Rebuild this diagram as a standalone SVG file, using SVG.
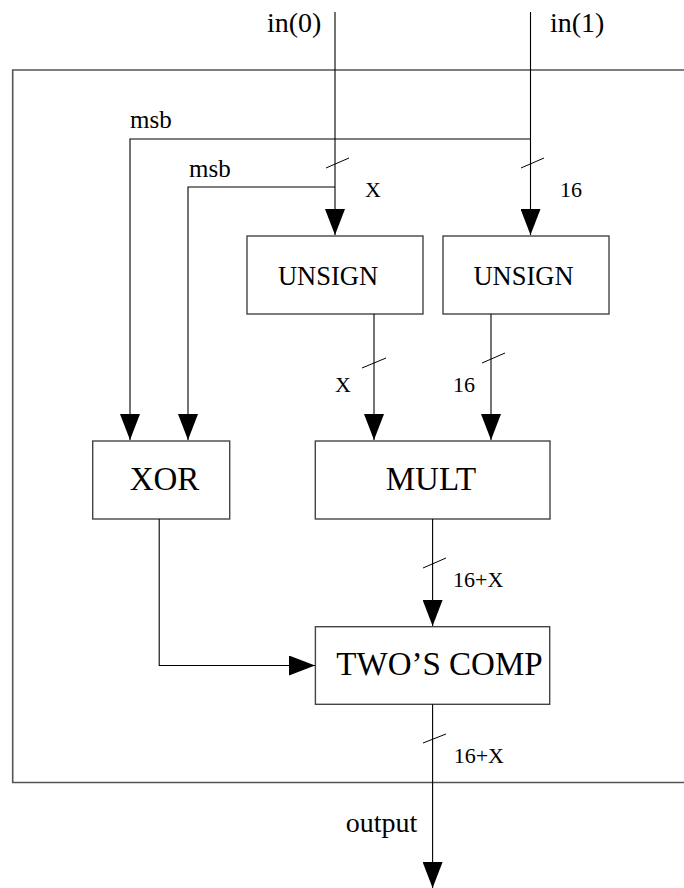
<svg xmlns="http://www.w3.org/2000/svg" width="684" height="888" viewBox="0 0 684 888">
  <style>
    text { font-family: "Liberation Serif", "Times New Roman", serif; fill: #000; }
    .frame { fill: none; stroke: #555; stroke-width: 1.6; }
    .box rect { fill: #fff; stroke: #444; stroke-width: 1.4; }
    .box text { text-anchor: middle; }
    .wire { fill: none; stroke: #000; stroke-width: 1.1; }
    .bus { stroke: #000; stroke-width: 1; }
    .lbl { font-size: 22px; }
    .pin { font-size: 28px; }
    .msb { font-size: 25px; }
  </style>
  <defs>
    <marker id="arrow" viewBox="0 0 26 20" refX="26" refY="10" markerWidth="26" markerHeight="20" orient="auto" markerUnits="userSpaceOnUse">
      <path d="M0,0 L26,10 L0,20 Z" fill="#000"/>
    </marker>
  </defs>

  <!-- enclosing block boundary (open on the right) -->
  <path class="frame" d="M684,70 H12.7 V782.5 H684"/>

  <!-- processing blocks -->
  <g id="unsign0" class="box">
    <rect x="247" y="236" width="176" height="78"/>
    <text x="328" y="285" font-size="26.5">UNSIGN</text>
  </g>
  <g id="unsign1" class="box">
    <rect x="443" y="236" width="166" height="78"/>
    <text x="523.5" y="285" font-size="26.5">UNSIGN</text>
  </g>
  <g id="xor" class="box">
    <rect x="92.7" y="441" width="137" height="78"/>
    <text x="164.5" y="490" font-size="33">XOR</text>
  </g>
  <g id="mult" class="box">
    <rect x="315.3" y="441" width="234.7" height="78"/>
    <text x="431" y="490" font-size="33">MULT</text>
  </g>
  <g id="twoscomp" class="box">
    <rect x="315.4" y="626.7" width="234.3" height="77.6"/>
    <text x="439.5" y="675" font-size="33">TWO’S COMP</text>
  </g>

  <!-- wires -->
  <g id="connectors">
    <path class="wire" d="M335,12 V235" marker-end="url(#arrow)"/>
    <path class="wire" d="M530.5,12 V235" marker-end="url(#arrow)"/>
    <path class="wire" d="M530.5,139 H130 V440" marker-end="url(#arrow)"/>
    <path class="wire" d="M335,187 H188 V440" marker-end="url(#arrow)"/>
    <path class="wire" d="M374,314 V440" marker-end="url(#arrow)"/>
    <path class="wire" d="M491,314 V440" marker-end="url(#arrow)"/>
    <path class="wire" d="M432.6,519 V626" marker-end="url(#arrow)"/>
    <path class="wire" d="M159.2,519 V665.5 H315" marker-end="url(#arrow)"/>
    <path class="wire" d="M432.6,704.3 V888" marker-end="url(#arrow)"/>

    <!-- bus-width slashes -->
    <line class="bus" x1="326" y1="168" x2="349" y2="158"/>
    <line class="bus" x1="521" y1="168" x2="544" y2="158"/>
    <line class="bus" x1="362" y1="368" x2="386" y2="358"/>
    <line class="bus" x1="482" y1="363" x2="505" y2="353"/>
    <line class="bus" x1="423" y1="568" x2="446" y2="558"/>
    <line class="bus" x1="423" y1="743" x2="446" y2="734"/>
  </g>

  <!-- signal labels -->
  <g id="labels">
    <text class="pin" x="267" y="32">in(0)</text>
    <text class="pin" x="550" y="32">in(1)</text>
    <text class="msb" x="130" y="128.3">msb</text>
    <text class="msb" x="189" y="176.7">msb</text>
    <text class="lbl" x="365" y="197">X</text>
    <text class="lbl" x="560" y="197">16</text>
    <text class="lbl" x="335" y="392">X</text>
    <text class="lbl" x="453" y="392">16</text>
    <text class="lbl" x="453" y="587">16+X</text>
    <text class="lbl" x="453.7" y="763">16+X</text>
    <text class="pin" x="345.7" y="832">output</text>
  </g>
</svg>
